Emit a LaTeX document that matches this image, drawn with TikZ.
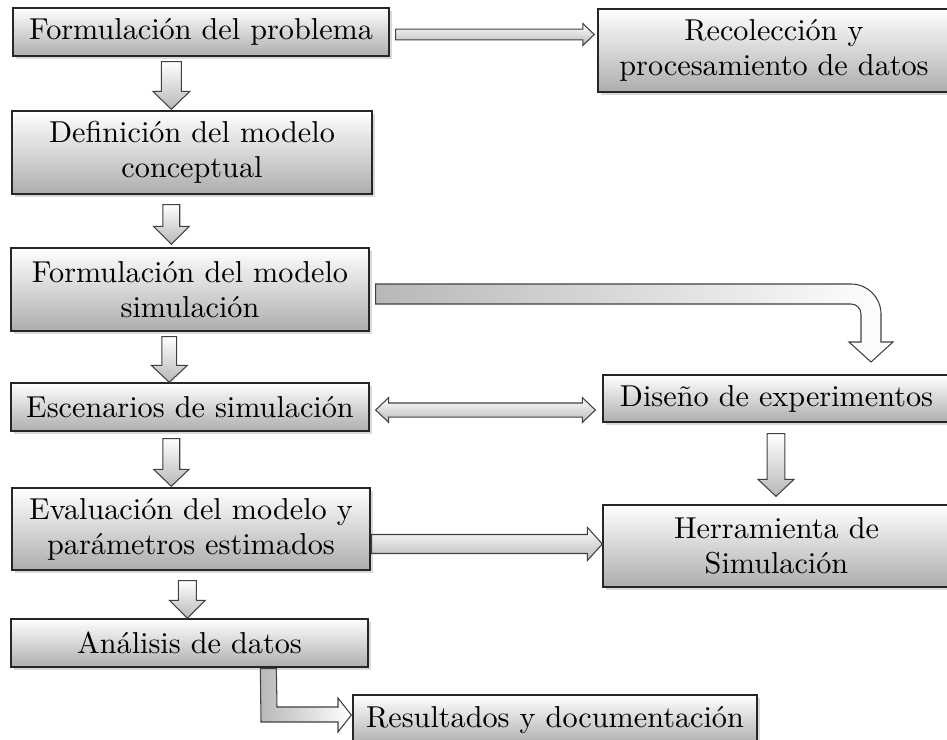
\documentclass[tikz,border=0pt]{standalone}
\usepackage{fontspec}
\setmainfont{lmroman10-regular.otf}
\usetikzlibrary{shadows,calc}
\newcommand\varrowblk[5]{%
  \path[blk] let \p1=#1, \p2=#2 in
    (\x1-#3,\y1) -- (\x1+#3,\y1) -- (\x1+#3,\y2+#5) -- (\x1+#4,\y2+#5) -- (\x1,\y2)
    -- (\x1-#4,\y2+#5) -- (\x1-#3,\y2+#5) -- cycle;}
\newcommand\harrowblk[5]{%
  \path[blk] let \p1=#1, \p2=#2 in
    (\x1,\y1+#3) -- (\x2-#5,\y1+#3) -- (\x2-#5,\y1+#4) -- (\x2,\y1)
    -- (\x2-#5,\y1-#4) -- (\x2-#5,\y1-#3) -- (\x1,\y1-#3) -- cycle;}
\newcommand\dblarrowblk[5]{%
  \path[blk] let \p1=#1, \p2=#2 in
    (\x1,\y1) -- (\x1+#5,\y1+#4) -- (\x1+#5,\y1+#3) -- (\x2-#5,\y1+#3) -- (\x2-#5,\y1+#4) -- (\x2,\y1)
    -- (\x2-#5,\y1-#4) -- (\x2-#5,\y1-#3) -- (\x1+#5,\y1-#3) -- (\x1+#5,\y1-#4) -- cycle;}
\tikzset{
  box/.style={draw=black!85, line width=0.8pt, top color=white, bottom color=black!32,
    drop shadow={shadow xshift=1.8pt, shadow yshift=-1.8pt, opacity=0.3},
    inner sep=0pt, align=center, font=\fontsize{17.2}{20}\selectfont},
  blk/.style={draw=black!75, line width=0.6pt, top color=white, bottom color=black!28},
  blkbend/.style={draw=black!75, line width=0.6pt, left color=black!28, right color=white},
}
\begin{document}
\begin{tikzpicture}[x=0.02cm, y=-0.02cm]
\useasboundingbox (0,0) rectangle (947,740);
% boxes
\node[box, minimum width=7.52cm, minimum height=0.96cm] (b1) at (201,32) {Formulación del problema};
\node[box, minimum width=7.04cm, minimum height=1.66cm] (b2) at (774,50.5) {Recolección y\\procesamiento de datos};
\node[box, minimum width=7.20cm, minimum height=1.66cm] (b3) at (192,152.5) {Definición del modelo\\conceptual};
\node[box, minimum width=7.16cm, minimum height=1.66cm] (b4) at (190,289.5) {Formulación del modelo\\simulación};
\node[box, minimum width=7.16cm, minimum height=0.96cm] (b5) at (190,407) {Escenarios de simulación};
\node[box, minimum width=6.94cm, minimum height=0.94cm] (b6) at (776.5,398.5) {Diseño de experimentos};
\node[box, minimum width=7.16cm, minimum height=1.64cm] (b7) at (191,529) {Evaluación del modelo y\\parámetros estimados};
\node[box, minimum width=6.94cm, minimum height=1.64cm] (b8) at (776.5,546) {Herramienta de\\Simulación};
\node[box, minimum width=7.14cm, minimum height=0.96cm] (b9) at (189.5,643) {Análisis de datos};
\node[box, minimum width=8.08cm, minimum height=1.00cm] (b10) at (555,720) {Resultados y documentación};
% horizontal arrows
\harrowblk{($(b1.east)+(6,2.5)$)}{($(b2.west|-b1.east)+(-3,2.5)$)}{3.1pt}{6.2pt}{6.5pt}
\dblarrowblk{($(b5.east)+(6,3)$)}{($(b6.west|-b5.east)+(-7,3)$)}{4pt}{7.1pt}{7.4pt}
\harrowblk{($(b7.east)+(1,15)$)}{($(b8.west|-b7.east)+(0,15)$)}{5.4pt}{9.4pt}{8.5pt}
% vertical arrows
\varrowblk{($(b1.south west)+(159,5)$)}{($(b3.north west)+(160,-1)$)}{5.7pt}{10.5pt}{10.2pt}
\varrowblk{($(b3.south west)+(160,10)$)}{($(b4.north west)+(161,-3)$)}{4.8pt}{10.2pt}{10.2pt}
\varrowblk{($(b4.south west)+(159,5)$)}{($(b5.north west)+(159,0)$)}{4.2pt}{10.2pt}{9.6pt}
\varrowblk{($(b5.south west)+(161,7)$)}{($(b7.north west)+(160,-1)$)}{4.8pt}{10pt}{9.6pt}
\varrowblk{($(b7.south west)+(176,10)$)}{($(b9.north west)+(177,0)$)}{5.1pt}{10.2pt}{10.2pt}
\varrowblk{($(b6.south)+(-0.5,11)$)}{($(b8.north)+(-0.5,-8)$)}{5.1pt}{10.2pt}{9.6pt}
% curved arrow b4 -> b6
\path[blkbend] ($(b4.east)+(6,-5.5)$) -- (851,284) .. controls (867.6,284) and (881,297.4) .. (881,314)
  -- (881,342) -- (893,342) -- (871,362) -- (849,342) -- (861,342) -- (861,314)
  .. controls (861,308.5) and (856.5,304) .. (851,304) -- ($(b4.east)+(6,14.5)$) -- cycle;
% bent arrow b9 -> b10
\path[blkbend] ($(b9.south west)+(250,1)$) -- (261,722) -- (338,722) -- (338,732) -- ($(b10.west)+(-1,-5)$)
  -- (338,698) -- (338,707) -- (277,707) -- ($(b9.south west)+(266,1)$) -- cycle;
\end{tikzpicture}
\end{document}
